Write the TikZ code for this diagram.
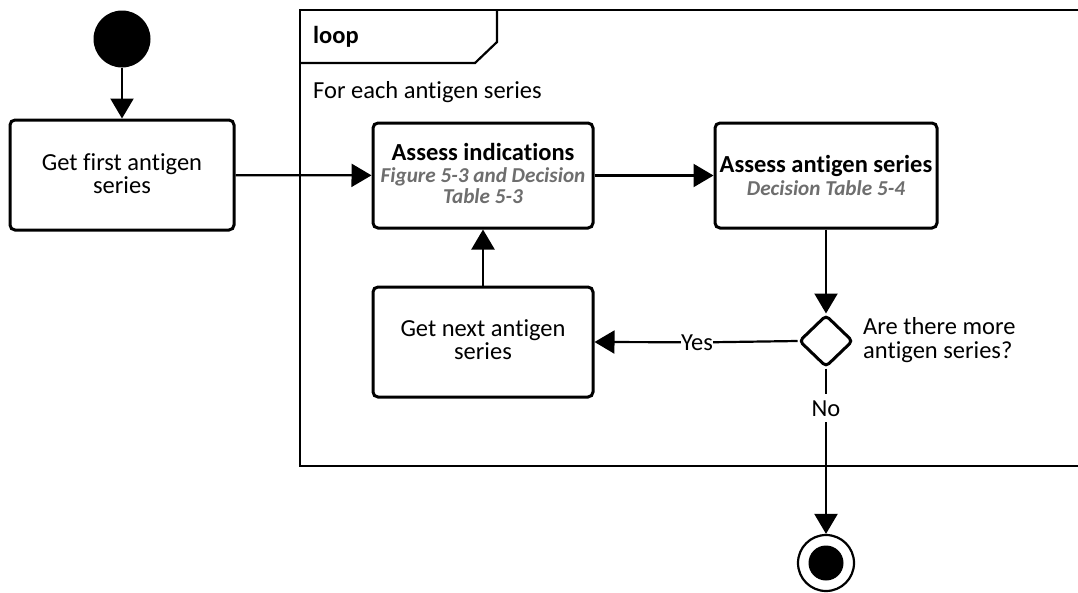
\documentclass[tikz,border=0pt]{standalone}
\usepackage{fontspec}
\setmainfont{Carlito}[Ligatures={NoCommon}]
\usetikzlibrary{arrows.meta,shapes.geometric}
\definecolor{refgray}{HTML}{6E6E6E}
\tikzset{
  box/.style={draw,line width=3pt,rounded corners=5pt,inner sep=0pt},
  txt/.style={anchor=base,inner sep=0pt,font=\fontsize{24.5}{22}\selectfont},
  btxt/.style={txt,font=\fontsize{24.5}{22}\selectfont\bfseries},
  rtxt/.style={txt,text=refgray,font=\fontsize{21.2}{22}\selectfont\bfseries\itshape},
  flow/.style={line width=2.2pt,-{Triangle[length=20pt,width=23pt]}},
  edge/.style={line width=2.2pt},
}
\begin{document}
\begin{tikzpicture}[x=1pt,y=-1pt]
\clip (0,0) rectangle (1078,592);
\useasboundingbox (0,0) rectangle (1078,592);
\fill[white] (0,0) rectangle (1078,592);
% loop frame
\draw[line width=2.2pt] (300,10) rectangle (1100,466);
\draw[line width=2.2pt] (300,63) -- (475,63) -- (497,42) -- (497,10);
\node[txt,anchor=base west,font=\fontsize{24.5}{22}\selectfont\bfseries] (loop) at (313,43) {loop};
\node[txt,anchor=base west] (foreach) at (313,98) {For each antigen series};
% nodes
\node[circle,fill=black,minimum size=57pt,inner sep=0pt] (start) at (122,39) {};
\node[box,minimum width=224pt,minimum height=110pt] (first) at (122,175) {};
\node[txt] (firstA) at (122,170) {Get first antigen};
\node[txt] (firstB) at (122,193) {series};
\node[box,minimum width=220pt,minimum height=105pt] (ind) at (483,175.5) {};
\node[btxt] (indA) at (483,160) {Assess indications};
\node[rtxt] (indB) at (483,182) {Figure 5-3 and Decision};
\node[rtxt] (indC) at (483,203.5) {Table 5-3};
\node[box,minimum width=222pt,minimum height=105pt] (ser) at (826,175.5) {};
\node[btxt] (serA) at (826,172) {Assess antigen series};
\node[rtxt] (serB) at (826,195) {Decision Table 5-4};
\node[box,minimum width=220pt,minimum height=110pt] (next) at (483,342) {};
\node[txt] (nextA) at (483,336) {Get next antigen};
\node[txt] (nextB) at (483,359) {series};
\node[diamond,draw,line width=3pt,rounded corners=4pt,minimum width=54pt,minimum height=52pt,inner sep=0pt] (dec) at (826,341) {};
\node[txt,anchor=base west] (qA) at (863,334) {Are there more};
\node[txt,anchor=base west] (qB) at (863,358) {antigen series?};
\node[circle,draw,line width=2.2pt,minimum size=56pt,inner sep=0pt] (end) at (826,563) {};
\node[circle,fill=black,minimum size=35pt,inner sep=0pt] (endin) at (826,563) {};
% labels on connectors
\node[txt,anchor=base] (yes) at (697,350) {Yes};
\node[txt,anchor=base] (no) at (826,416) {No};
% connectors
\draw[flow] (start) -- (first);
\draw[flow] (first) -- (ind);
\draw[flow] (ind) -- (ser);
\draw[flow] (ser) -- (dec);
\draw[flow] (next) -- (ind);
\draw[edge] (dec.west) -- (yes.east);
\draw[flow] (yes.west) -- (next.east);
\coordinate (noTop) at ([yshift=6pt]no.north);
\coordinate (noBot) at ([yshift=-6pt]no.south);
\draw[edge] (dec.south) -- (noTop);
\draw[flow] (noBot) -- (end);
\end{tikzpicture}
\end{document}
